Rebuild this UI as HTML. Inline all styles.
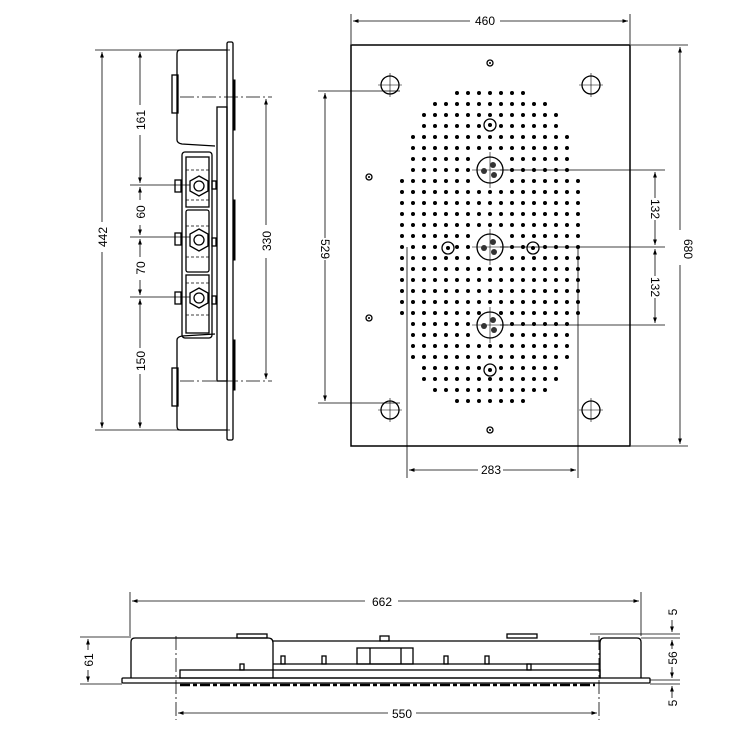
<!DOCTYPE html>
<html><head><meta charset="utf-8"><style>
html,body{margin:0;padding:0;background:#fff}
svg{display:block}
text{font-family:"Liberation Sans",sans-serif;font-size:12px;fill:#000}
</style></head><body>
<svg id="s" width="750" height="750" viewBox="0 0 750 750" xmlns="http://www.w3.org/2000/svg">
<defs>
<marker id="a" viewBox="0 0 10 10" refX="10" refY="5" markerWidth="7" markerHeight="7" orient="auto-start-reverse"><path d="M0,1.5 L10,5 L0,8.5 z" fill="#000"/></marker>
</defs>
<g stroke="#000" fill="none" stroke-width="1">
<!-- ===== RIGHT VIEW ===== -->
<rect x="351" y="45" width="279" height="401" stroke-width="1.5"/>
<line x1="351" y1="14" x2="351" y2="44" stroke-width="0.8"/>
<line x1="630" y1="14" x2="630" y2="44" stroke-width="0.8"/>
<line x1="353" y1="21" x2="470" y2="21" marker-start="url(#a)" stroke-width="0.8"/>
<line x1="500" y1="21" x2="628" y2="21" marker-end="url(#a)" stroke-width="0.8"/>
<line x1="631" y1="45" x2="688" y2="45" stroke-width="0.8"/>
<line x1="631" y1="446" x2="688" y2="446" stroke-width="0.8"/>
<line x1="680" y1="47" x2="680" y2="230" marker-start="url(#a)" stroke-width="0.8"/>
<line x1="680" y1="265" x2="680" y2="444" marker-end="url(#a)" stroke-width="0.8"/>
<line x1="318" y1="91" x2="400" y2="91" stroke-width="0.8"/>
<line x1="318" y1="403" x2="400" y2="403" stroke-width="0.8"/>
<line x1="325" y1="93" x2="325" y2="238" marker-start="url(#a)" stroke-width="0.8"/>
<line x1="325" y1="260" x2="325" y2="401" marker-end="url(#a)" stroke-width="0.8"/>
<line x1="407" y1="247" x2="407" y2="478" stroke-width="0.8"/>
<line x1="578" y1="247" x2="578" y2="478" stroke-width="0.8"/>
<line x1="409" y1="470" x2="478" y2="470" marker-start="url(#a)" stroke-width="0.8"/>
<line x1="503" y1="470" x2="576" y2="470" marker-end="url(#a)" stroke-width="0.8"/>
<line x1="500" y1="170" x2="665" y2="170" stroke-width="0.8"/>
<line x1="500" y1="247" x2="665" y2="247" stroke-width="0.8"/>
<line x1="500" y1="325" x2="665" y2="325" stroke-width="0.8"/>
<line x1="655" y1="172" x2="655" y2="198" marker-start="url(#a)" stroke-width="0.8"/>
<line x1="655" y1="220" x2="655" y2="245" marker-end="url(#a)" stroke-width="0.8"/>
<line x1="655" y1="249" x2="655" y2="276" marker-start="url(#a)" stroke-width="0.8"/>
<line x1="655" y1="298" x2="655" y2="323" marker-end="url(#a)" stroke-width="0.8"/>
<g stroke-width="1.3">
<circle cx="390" cy="85" r="9"/><circle cx="591" cy="85" r="9"/>
<circle cx="390" cy="410" r="9"/><circle cx="591" cy="410" r="9"/>
<circle cx="369" cy="177" r="3"/><circle cx="369" cy="318" r="3"/>
<circle cx="490" cy="63" r="3"/><circle cx="490" cy="430" r="3"/>
<circle cx="490" cy="125" r="6"/><circle cx="448" cy="248" r="6"/><circle cx="533" cy="248" r="6"/><circle cx="490" cy="370" r="6"/>
<circle cx="490" cy="170" r="13"/><circle cx="490" cy="247" r="13"/><circle cx="490" cy="325" r="13"/>
</g>
<g stroke-width="0.6">
<path d="M378,85h24M390,73v24M579,85h24M591,73v24M378,410h24M390,398v24M579,410h24M591,398v24"/>
<path d="M490,152v36M472,170h36M490,229v36M472,247h36M490,307v36M472,325h36"/>
</g>
<g fill="#000" stroke="none">
<circle cx="369" cy="177" r="1"/><circle cx="369" cy="318" r="1"/><circle cx="490" cy="63" r="1"/><circle cx="490" cy="430" r="1"/>
<circle cx="490" cy="125" r="2"/><circle cx="448" cy="248" r="2"/><circle cx="533" cy="248" r="2"/><circle cx="490" cy="370" r="2"/>
</g>
<g id="dots" fill="#000" stroke="none"></g>
<g fill="#333" stroke="none">
<circle cx="493" cy="165" r="3"/><circle cx="484" cy="171" r="3"/><circle cx="494" cy="175" r="3"/>
<circle cx="493" cy="242" r="3"/><circle cx="484" cy="248" r="3"/><circle cx="494" cy="252" r="3"/>
<circle cx="493" cy="320" r="3"/><circle cx="484" cy="326" r="3"/><circle cx="494" cy="330" r="3"/>
</g>
<!-- ===== LEFT VIEW ===== -->
<line x1="95" y1="50" x2="230" y2="50" stroke-width="0.8"/>
<line x1="95" y1="430" x2="230" y2="430" stroke-width="0.8"/>
<line x1="102" y1="52" x2="102" y2="222" marker-start="url(#a)" stroke-width="0.8"/>
<line x1="102" y1="252" x2="102" y2="428" marker-end="url(#a)" stroke-width="0.8"/>
<line x1="140" y1="52" x2="140" y2="105" marker-start="url(#a)" stroke-width="0.8"/>
<line x1="140" y1="135" x2="140" y2="183" marker-end="url(#a)" stroke-width="0.8"/>
<line x1="140" y1="187" x2="140" y2="200" marker-start="url(#a)" stroke-width="0.8"/>
<line x1="140" y1="225" x2="140" y2="235" marker-end="url(#a)" stroke-width="0.8"/>
<line x1="140" y1="239" x2="140" y2="257" marker-start="url(#a)" stroke-width="0.8"/>
<line x1="140" y1="280" x2="140" y2="295" marker-end="url(#a)" stroke-width="0.8"/>
<line x1="140" y1="299" x2="140" y2="348" marker-start="url(#a)" stroke-width="0.8"/>
<line x1="140" y1="374" x2="140" y2="428" marker-end="url(#a)" stroke-width="0.8"/>
<line x1="130" y1="185" x2="190" y2="185" stroke-width="0.8"/>
<line x1="130" y1="237" x2="190" y2="237" stroke-width="0.8"/>
<line x1="130" y1="297" x2="190" y2="297" stroke-width="0.8"/>
<line x1="180" y1="97" x2="272" y2="97" stroke-width="0.8" stroke-dasharray="14,3,2,3"/>
<line x1="180" y1="381" x2="272" y2="381" stroke-width="0.8" stroke-dasharray="14,3,2,3"/>
<line x1="266" y1="99" x2="266" y2="225" marker-start="url(#a)" stroke-width="0.8"/>
<line x1="266" y1="258" x2="266" y2="379" marker-end="url(#a)" stroke-width="0.8"/>
<g stroke-width="1.3">
<rect x="227" y="42" width="6" height="398" rx="1.5"/>
<rect x="217" y="107" width="10" height="274"/>
<path d="M227,50 L180,50 Q177,50 177,54 L177,140 Q177,143 182,144 L215,146"/>
<path d="M227,430 L180,430 Q177,430 177,426 L177,340 Q177,337 182,336 L215,334"/>
<rect x="172" y="75" width="6" height="38"/><rect x="172" y="368" width="6" height="38"/>
<rect x="182" y="152" width="30" height="186" rx="3"/>
<rect x="186" y="157" width="23" height="50"/>
<rect x="186" y="210" width="23" height="62" rx="2"/>
<rect x="186" y="275" width="23" height="58"/>
<polygon points="199,176 208,181 208,191 199,196 190,191 190,181"/>
<circle cx="199" cy="186" r="5"/>
<polygon points="199,229 208,234 208,246 199,251 190,246 190,234"/>
<circle cx="199" cy="240" r="5"/>
<polygon points="199,288 208,293 208,303 199,308 190,303 190,293"/>
<circle cx="199" cy="298" r="5"/>
<rect x="175" y="180" width="6" height="12"/><rect x="175" y="233" width="6" height="12"/><rect x="175" y="292" width="6" height="12"/>
<rect x="212" y="181" width="4" height="8"/><rect x="212" y="238" width="4" height="8"/><rect x="212" y="296" width="4" height="8"/>
</g>
<line x1="186" y1="170" x2="209" y2="170" stroke-dasharray="3,2" stroke-width="0.7"/>
<line x1="186" y1="200" x2="209" y2="200" stroke-dasharray="3,2" stroke-width="0.7"/>
<line x1="186" y1="226" x2="209" y2="226" stroke-dasharray="3,2" stroke-width="0.7"/>
<line x1="186" y1="257" x2="209" y2="257" stroke-dasharray="3,2" stroke-width="0.7"/>
<line x1="186" y1="283" x2="209" y2="283" stroke-dasharray="3,2" stroke-width="0.7"/>
<line x1="186" y1="315" x2="209" y2="315" stroke-dasharray="3,2" stroke-width="0.7"/>
<rect x="233" y="80" width="2" height="50" fill="#000"/><rect x="233" y="200" width="2" height="60" fill="#000"/><rect x="233" y="340" width="2" height="50" fill="#000"/>
<!-- ===== BOTTOM VIEW ===== -->
<line x1="130" y1="592" x2="130" y2="636" stroke-width="0.8"/>
<line x1="641" y1="592" x2="641" y2="636" stroke-width="0.8"/>
<line x1="132" y1="601" x2="365" y2="601" marker-start="url(#a)" stroke-width="0.8"/>
<line x1="398" y1="601" x2="639" y2="601" marker-end="url(#a)" stroke-width="0.8"/>
<line x1="176" y1="636" x2="176" y2="720" stroke-width="0.8" stroke-dasharray="14,3,2,3"/>
<line x1="599" y1="636" x2="599" y2="720" stroke-width="0.8" stroke-dasharray="14,3,2,3"/>
<line x1="178" y1="713" x2="388" y2="713" marker-start="url(#a)" stroke-width="0.8"/>
<line x1="416" y1="713" x2="597" y2="713" marker-end="url(#a)" stroke-width="0.8"/>
<line x1="80" y1="637" x2="131" y2="637" stroke-width="0.8"/>
<line x1="80" y1="684" x2="122" y2="684" stroke-width="0.8"/>
<line x1="88" y1="639" x2="88" y2="650" marker-start="url(#a)" stroke-width="0.8"/>
<line x1="88" y1="670" x2="88" y2="682" marker-end="url(#a)" stroke-width="0.8"/>
<line x1="590" y1="634" x2="680" y2="634" stroke-width="0.8"/>
<line x1="641" y1="638" x2="680" y2="638" stroke-width="0.8"/>
<line x1="650" y1="680" x2="680" y2="680" stroke-width="0.8"/>
<line x1="650" y1="684" x2="680" y2="684" stroke-width="0.8"/>
<line x1="672" y1="620" x2="672" y2="632" marker-end="url(#a)" stroke-width="0.8"/>
<line x1="672" y1="649" x2="672" y2="640" marker-end="url(#a)" stroke-width="0.8"/>
<line x1="672" y1="667" x2="672" y2="678" marker-end="url(#a)" stroke-width="0.8"/>
<line x1="672" y1="698" x2="672" y2="686" marker-end="url(#a)" stroke-width="0.8"/>
<g stroke-width="1.3">
<path d="M131,678 L131,642 Q131,638 135,638 L268,638 Q273,638 273,643 L273,678"/>
<path d="M273,641 L600,641"/>
<path d="M641,678 L641,642 Q641,638 637,638 L604,638 Q600,638 600,643 L600,678"/>
<rect x="237" y="634" width="30" height="4"/><rect x="507" y="634" width="30" height="4"/>
<rect x="380" y="636" width="9" height="5"/>
<rect x="357" y="648" width="56" height="16"/>
<line x1="370" y1="648" x2="370" y2="664"/><line x1="401" y1="648" x2="401" y2="664"/>
<line x1="273" y1="664" x2="600" y2="664"/>
<rect x="180" y="670" width="420" height="8"/>
<rect x="122" y="678" width="528" height="5" rx="1"/>
<rect x="240" y="664" width="4" height="6"/><rect x="281" y="656" width="4" height="8"/><rect x="322" y="656" width="4" height="8"/>
<rect x="444" y="656" width="4" height="8"/><rect x="485" y="656" width="4" height="8"/><rect x="527" y="664" width="4" height="6"/>
</g>
<line x1="180" y1="685" x2="595" y2="685" stroke-width="2.5" stroke-dasharray="10,3,4,3"/>
</g>
<g>
<text x="485" y="25" text-anchor="middle" font-size="11">460</text>
<text x="491" y="474" text-anchor="middle" font-size="11">283</text>
<text transform="translate(684,249) rotate(90)" text-anchor="middle" font-size="11">680</text>
<text transform="translate(321,249) rotate(90)" text-anchor="middle" font-size="11">529</text>
<text transform="translate(651,209) rotate(90)" text-anchor="middle" font-size="11">132</text>
<text transform="translate(651,287) rotate(90)" text-anchor="middle" font-size="11">132</text>
<text transform="translate(107,237) rotate(-90)" text-anchor="middle" font-size="14">442</text>
<text transform="translate(145,120) rotate(-90)" text-anchor="middle" font-size="14">161</text>
<text transform="translate(145,212) rotate(-90)" text-anchor="middle" font-size="14">60</text>
<text transform="translate(145,268) rotate(-90)" text-anchor="middle" font-size="14">70</text>
<text transform="translate(145,361) rotate(-90)" text-anchor="middle" font-size="14">150</text>
<text transform="translate(271,241) rotate(-90)" text-anchor="middle" font-size="14">330</text>
<text x="382" y="606" text-anchor="middle" font-size="13">662</text>
<text x="402" y="718" text-anchor="middle" font-size="13">550</text>
<text transform="translate(93,660) rotate(-90)" text-anchor="middle" font-size="13">61</text>
<text transform="translate(677,612) rotate(-90)" text-anchor="middle" font-size="13">5</text>
<text transform="translate(677,658) rotate(-90)" text-anchor="middle" font-size="13">56</text>
<text transform="translate(677,703) rotate(-90)" text-anchor="middle" font-size="13">5</text>
</g>
</svg>
<script>
(function(){
var g=document.getElementById('dots'),h='';
var cx=490,cy=247,a=93,b=162,n=2.6;
for(var y=cy-154;y<=cy+154;y+=11){for(var x=cx-88;x<=cx+88;x+=11){
var v=Math.pow(Math.abs(x-cx)/a,n)+Math.pow(Math.abs(y-cy)/b,n);
if(v>1)continue;
var skip=false;[[490,170,16],[490,247,16],[490,325,16],[490,125,9],[448,248,9],[533,248,9],[490,370,9]].forEach(function(c){if(Math.hypot(x-c[0],y-c[1])<c[2])skip=true;});
if(skip)continue;
h+='<circle cx="'+x+'" cy="'+y+'" r="2"/>';}}
g.innerHTML=h;
})();
</script>
</body></html>
